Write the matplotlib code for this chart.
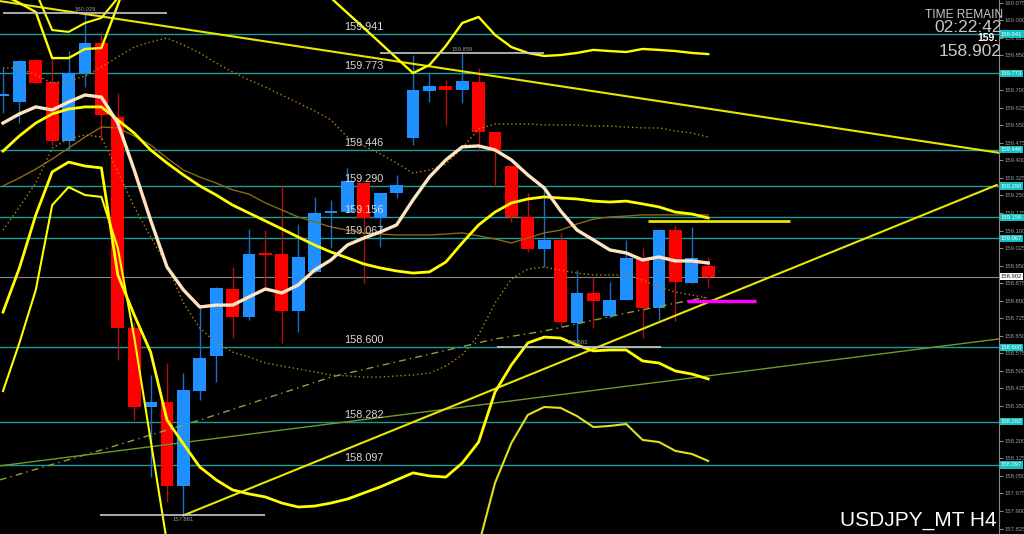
import numpy as np
import matplotlib.pyplot as plt
from matplotlib.transforms import blended_transform_factory

plt.rcParams['font.family'] = ['Liberation Sans', 'DejaVu Sans']

# ---- USDJPY H4 candles ----
opens = [159.676, 159.650, 159.830, 159.736, 159.483, 159.774, 159.903, 159.586, 158.683, 158.345,
         158.366, 158.007, 158.413, 158.563, 158.850, 158.730, 159.000, 159.000, 158.756, 158.923,
         159.175, 159.179, 159.303, 159.154, 159.261, 159.496, 159.697, 159.719, 159.701, 159.736,
         159.522, 159.376, 159.158, 159.021, 159.060, 158.704, 158.833, 158.734, 158.803, 158.983,
         158.769, 159.102, 158.876, 158.948]
highs = [159.796, 159.830, 159.832, 159.838, 159.868, 160.029, 159.950, 159.689, 158.709, 158.482,
         158.533, 158.490, 158.773, 158.858, 158.944, 159.107, 159.102, 159.295, 159.128, 159.244,
         159.231, 159.368, 159.305, 159.261, 159.338, 159.851, 159.774, 159.744, 159.859, 159.796,
         159.522, 159.376, 159.261, 159.274, 159.090, 158.931, 158.901, 158.880, 159.060, 159.025,
         159.102, 159.124, 159.115, 158.987]
lows = [159.603, 159.560, 159.731, 159.466, 159.445, 159.714, 159.487, 158.546, 158.290, 158.045,
        157.938, 157.881, 158.375, 158.452, 158.640, 158.717, 158.858, 158.619, 158.666, 158.920,
        159.025, 159.175, 158.876, 159.030, 159.239, 159.466, 159.650, 159.552, 159.646, 159.445,
        159.286, 159.137, 159.008, 158.944, 158.687, 158.619, 158.683, 158.726, 158.803, 158.640,
        158.717, 158.715, 158.876, 158.858]
closes = [159.680, 159.826, 159.731, 159.483, 159.774, 159.903, 159.594, 158.683, 158.345, 158.366,
          158.007, 158.418, 158.555, 158.854, 158.730, 159.000, 158.995, 158.756, 158.987, 159.175,
          159.184, 159.312, 159.154, 159.261, 159.295, 159.701, 159.719, 159.701, 159.740, 159.522,
          159.440, 159.158, 159.021, 159.060, 158.709, 158.833, 158.799, 158.803, 158.983, 158.769,
          159.102, 158.880, 158.983, 158.902]

# ---- indicators ----
ma = [159.560, 159.599, 159.629, 159.616, 159.650, 159.680, 159.671, 159.560, 159.359, 159.145,
      158.944, 158.846, 158.773, 158.781, 158.781, 158.816, 158.850, 158.833, 158.867, 158.931,
      158.974, 159.038, 159.068, 159.094, 159.124, 159.231, 159.329, 159.402, 159.458, 159.462,
      159.445, 159.402, 159.338, 159.282, 159.184, 159.102, 159.060, 159.017, 159.004, 158.974,
      158.987, 158.970, 158.970, 158.961]
band_upper1 = [159.440, 159.505, 159.560, 159.599, 159.620, 159.629, 159.629, 159.573, 159.517, 159.445,
               159.389, 159.338, 159.291, 159.252, 159.209, 159.175, 159.141, 159.107, 159.072, 159.038,
               159.008, 158.983, 158.957, 158.940, 158.927, 158.918, 158.923, 158.965, 159.047, 159.124,
               159.179, 159.218, 159.235, 159.244, 159.239, 159.235, 159.226, 159.222, 159.226, 159.214,
               159.201, 159.179, 159.171, 159.154]
band_lower1 = [158.751, 158.940, 159.167, 159.351, 159.393, 159.376, 159.368, 158.910, 158.739, 158.580,
               158.289, 158.187, 158.088, 158.033, 157.990, 157.973, 157.960, 157.934, 157.917, 157.921,
               157.934, 157.951, 157.977, 158.003, 158.033, 158.063, 158.050, 158.045, 158.105, 158.195,
               158.409, 158.525, 158.619, 158.644, 158.640, 158.610, 158.585, 158.589, 158.589, 158.542,
               158.533, 158.499, 158.486, 158.465]
upper2_a_x = list(range(0, 9))
upper2_a = [160.108, 160.074, 160.035, 159.838, 159.838, 159.877, 159.881, 160.065, 160.258]
upper2_b_x = list(range(19, 44))
upper2_b = [160.155, 160.095, 160.031, 159.967, 159.903, 159.838, 159.774, 159.808, 159.890, 159.988,
            160.014, 159.937, 159.885, 159.860, 159.847, 159.851, 159.860, 159.873, 159.868, 159.864,
            159.877, 159.873, 159.868, 159.860, 159.855]
upper3_x = list(range(1, 9))
upper3 = [160.258, 160.121, 159.958, 159.950, 159.988, 160.010, 160.095, 160.300]
lower2_a_x = list(range(0, 11))
lower2_a = [158.413, 158.619, 158.846, 159.209, 159.286, 159.252, 159.244, 159.025, 158.644, 158.204, 157.763]
lower2_b_x = list(range(28, 44))
lower2_b = [157.476, 157.754, 158.020, 158.191, 158.311, 158.345, 158.341, 158.306, 158.259, 158.264,
            158.272, 158.204, 158.195, 158.157, 158.144, 158.114]
dot_upper = [159.796, 159.796, 159.766, 159.731, 159.740, 159.761, 159.800, 159.843, 159.885, 159.907,
             159.924, 159.894, 159.860, 159.817, 159.778, 159.744, 159.714, 159.680, 159.646, 159.612,
             159.573, 159.500, 159.462, 159.428, 159.389, 159.346, 159.359, 159.385, 159.453, 159.535,
             159.556, 159.556, 159.556, 159.552, 159.552, 159.552, 159.547, 159.547, 159.543, 159.539,
             159.539, 159.526, 159.517, 159.500]
dot_lower = [159.102, 159.201, 159.303, 159.453, 159.492, 159.509, 159.500, 159.351, 159.201, 159.072,
             158.953, 158.790, 158.683, 158.619, 158.580, 158.559, 158.533, 158.520, 158.508, 158.495,
             158.482, 158.478, 158.473, 158.473, 158.478, 158.482, 158.490, 158.520, 158.568, 158.653,
             158.790, 158.893, 158.935, 158.944, 158.931, 158.918, 158.910, 158.910, 158.910, 158.888,
             158.858, 158.837, 158.824, 158.811]
mid_line = [159.291, 159.325, 159.363, 159.406, 159.453, 159.500, 159.543, 159.539, 159.505, 159.466,
            159.410, 159.359, 159.329, 159.303, 159.274, 159.256, 159.218, 159.188, 159.158, 159.137,
            159.115, 159.102, 159.090, 159.085, 159.081, 159.081, 159.081, 159.085, 159.090, 159.077,
            159.064, 159.047, 159.068, 159.090, 159.102, 159.128, 159.149, 159.158, 159.162, 159.167,
            159.167, 159.167, 159.167, 159.167]
dashdot_x = [-0.2, 0, 6, 12, 20, 30, 33, 38, 42, 43]
dashdot = [158.033, 158.037, 158.161, 158.289, 158.473, 158.636, 158.670, 158.747, 158.803, 158.816]

# ---- objects ----
levels = [159.941, 159.773, 159.446, 159.290, 159.156, 159.067, 158.600, 158.282, 158.097]
trend_down = ([-0.2, 60.7], [160.082, 159.433])
trend_up = ([11, 60.6], [157.881, 159.295])
trend_green = ([-0.2, 60.7], [158.093, 158.636])
hl_marks = [(160.029, 0, 10, 5), (159.859, 23, 33, 28), (158.603, 30.1, 40.1, 35), (157.881, 5.9, 16, 11)]
magenta_seg = ([41.7, 45.9], 158.799)
yellow_seg = ([39.3, 48.0], 159.141)
bid = 158.902
price_ticks = np.arange(157.825, 160.1, 0.075)

BG = 'black'
fig = plt.figure(figsize=(10.24, 5.34), dpi=100, facecolor=BG)
ax = fig.add_axes([0, 0, 999 / 1024, 1], facecolor=BG)
ax.set_xlim(-0.183, 60.73)
ax.set_ylim(157.8015, 160.0865)

x = np.arange(len(opens))
o, h, l, c = map(np.array, (opens, highs, lows, closes))
up = c >= o

# horizontal levels
tr = blended_transform_factory(ax.transAxes, ax.transData)
for lv in levels:
    ax.axhline(lv, color='#1f9a9a', lw=1.0, zorder=1)
    ax.annotate(f'{lv:.3f}', xy=(0.345, lv), xycoords=tr,
                xytext=(0, 1.5), textcoords='offset points', va='bottom', ha='left',
                color='#d8d8d8', fontsize=7.8, zorder=6)
ax.axhline(bid, color='#8a8a8a', lw=0.8, zorder=1)

# candles
ax.vlines(x[up], l[up], h[up], color='#1c6cc0', lw=1, zorder=2)
ax.vlines(x[~up], l[~up], h[~up], color='#b01010', lw=1, zorder=2)
body_h = np.maximum(np.abs(c - o), 0.008)
body_b = np.minimum(o, c)
ax.bar(x[up], body_h[up], bottom=body_b[up], width=0.79, color='#1e90ff', zorder=3)
ax.bar(x[~up], body_h[~up], bottom=body_b[~up], width=0.79, color='#ff0000', zorder=3)

# indicator lines
ax.plot(x, mid_line, color='#8b6914', lw=1, zorder=4)
ax.plot(x, dot_upper, color='#b8860b', lw=1, ls=(0, (1, 2)), zorder=4)
ax.plot(x, dot_lower, color='#b8860b', lw=1, ls=(0, (1, 2)), zorder=4)
ax.plot(dashdot_x, dashdot, color='#8fa040', lw=1, ls=(0, (5, 3, 1, 3)), zorder=4)
ax.plot(*trend_green, color='#6b9a2a', lw=1, zorder=4)
ax.plot(*trend_down, color='#e6e600', lw=1.5, zorder=4)
ax.plot(*trend_up, color='#e6e600', lw=1.5, zorder=4)
ax.plot(x, band_upper1, color='#ffff00', lw=2, zorder=5)
ax.plot(x, band_lower1, color='#ffff00', lw=2, zorder=5)
ax.plot(upper2_a_x, upper2_a, color='#ffff00', lw=1.7, zorder=5)
ax.plot(upper2_b_x, upper2_b, color='#ffff00', lw=1.7, zorder=5)
ax.plot(upper3_x, upper3, color='#ffff00', lw=1.5, zorder=5)
ax.plot(lower2_a_x, lower2_a, color='#ffff00', lw=1.5, zorder=5)
ax.plot(lower2_b_x, lower2_b, color='#e0e020', lw=1.5, zorder=5)
ax.plot(x, ma, color='#ffe4c4', lw=2.4, zorder=6)

# short segments
ax.hlines(yellow_seg[1], *yellow_seg[0], color='#e6e600', lw=2, zorder=5)
ax.hlines(magenta_seg[1], *magenta_seg[0], color='#ff00ff', lw=2.5, zorder=6)
for price, x0, x1, xl in hl_marks:
    ax.hlines(price, x0, x1, color='#c8c8c8', lw=1.2, zorder=5)
    below = price < 158
    ax.annotate(f'{price:.3f}', xy=(xl, price), xytext=(0, -1 if below else 1),
                textcoords='offset points', va='top' if below else 'bottom', ha='center',
                color='#9a9a9a', fontsize=4.2, zorder=6)

# right price axis (labels hidden where a level box sits)
boxed = levels + [bid]
tick_labels = ['' if min(abs(t - b) for b in boxed) < 0.012 else f'{t:.3f}' for t in price_ticks]
ax.yaxis.tick_right()
ax.set_yticks(price_ticks)
ax.set_yticklabels(tick_labels)
ax.tick_params(axis='y', colors='#8a8a8a', labelcolor='#9a9a9a', labelsize=4.2, length=3, pad=1)
ax.set_xticks([])
for s in ('top', 'left'):
    ax.spines[s].set_visible(False)
ax.spines['right'].set_color('#8a8a8a')
ax.spines['bottom'].set_color('#8a8a8a')

for lv in levels:
    ax.text(1.002, lv, f'{lv:.3f}', transform=tr, va='center', ha='left', fontsize=4.2,
            color='#e8ffff', clip_on=False, zorder=10,
            bbox=dict(boxstyle='square,pad=0.2', fc='#17c0c0', ec='none'))
ax.text(1.002, bid, f'{bid:.3f}', transform=tr, va='center', ha='left', fontsize=4.2,
        color='#202020', clip_on=False, zorder=10,
        bbox=dict(boxstyle='square,pad=0.2', fc='#ffffff', ec='none'))

# corner texts
fig.text(1003 / 1024, 1 - 15 / 534, 'TIME REMAIN', ha='right', va='center', color='#c8c8c8', fontsize=8.6)
fig.text(1002 / 1024, 1 - 27 / 534, '02:22:42', ha='right', va='center', color='#c8c8c8', fontsize=12.5)
fig.text(1002 / 1024, 1 - 51 / 534, f'{bid:.3f}', ha='right', va='center', color='#c8c8c8', fontsize=12.5)
fig.text(977 / 1024, 1 - 38 / 534, '159.', ha='left', va='center', color='white', fontsize=7.5, weight='bold')
fig.text(997 / 1024, 1 - 520 / 534, 'USDJPY_MT H4', ha='right', va='center', color='white', fontsize=15)

fig.savefig('out.png', dpi=100, facecolor=BG)
